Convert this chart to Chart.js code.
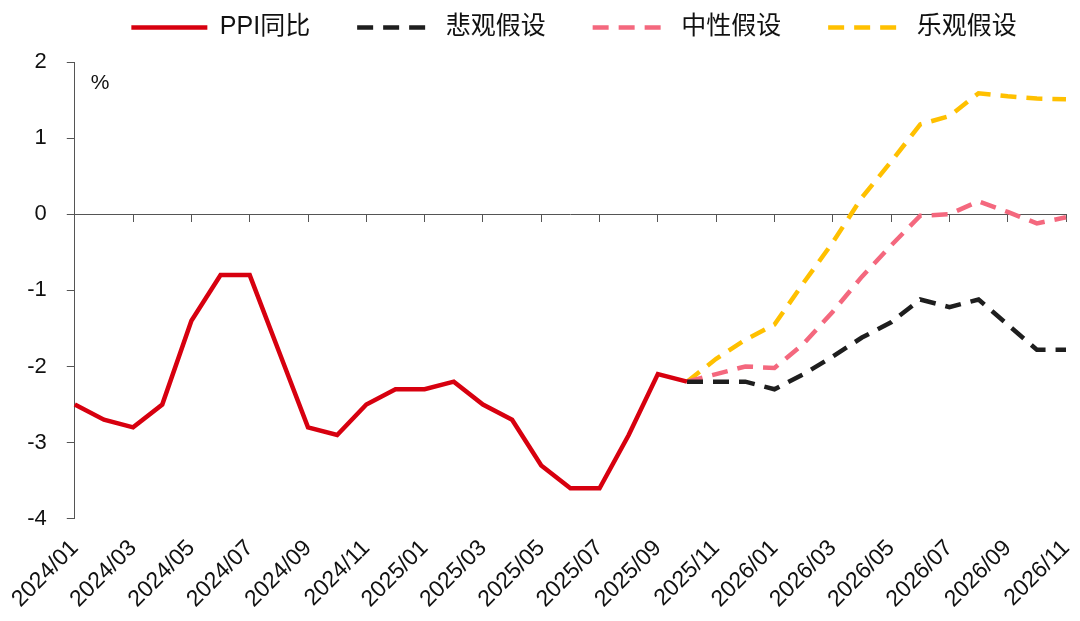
<!DOCTYPE html>
<html>
<head>
<meta charset="utf-8">
<script src="https://cdn.jsdelivr.net/npm/chart.js@4.4.1/dist/chart.umd.min.js"></script>
<style>
  html, body { margin: 0; padding: 0; background: #fff; }
  #ppichart { display: block; }
</style>
</head>
<body>
<canvas id="ppichart" width="1080" height="621"></canvas>
<script>
"use strict";

/*----------------------------------------*/
/*  data
/*----------------------------------------*/
var months = [
	"2024/01", "2024/02", "2024/03", "2024/04", "2024/05", "2024/06",
	"2024/07", "2024/08", "2024/09", "2024/10", "2024/11", "2024/12",
	"2025/01", "2025/02", "2025/03", "2025/04", "2025/05", "2025/06",
	"2025/07", "2025/08", "2025/09", "2025/10", "2025/11", "2025/12",
	"2026/01", "2026/02", "2026/03", "2026/04", "2026/05", "2026/06",
	"2026/07", "2026/08", "2026/09", "2026/10", "2026/11"
];
// actual PPI yoy, 2024/01 .. 2025/10
var ppi = [-2.5, -2.7, -2.8, -2.5, -1.4, -0.8, -0.8, -1.8, -2.8, -2.9, -2.5, -2.3,
	-2.3, -2.2, -2.5, -2.7, -3.3, -3.6, -3.6, -2.9, -2.1, -2.2];
// scenarios, 2025/10 .. 2026/11
var pessimistic = [-2.2, -2.2, -2.2, -2.3, -2.1, -1.87, -1.62, -1.42, -1.12, -1.22, -1.12, -1.45, -1.78, -1.78];
var neutral = [-2.2, -2.1, -2.0, -2.02, -1.7, -1.28, -0.82, -0.41, -0.02, 0.0, 0.17, 0.03, -0.12, -0.04];
var optimistic = [-2.2, -1.9, -1.65, -1.45, -0.9, -0.37, 0.22, 0.69, 1.18, 1.29, 1.59, 1.55, 1.52, 1.51];
var yTicks = [-4, -3, -2, -1, 0, 1, 2];

var scenarioStart = ppi.length - 1;

function padSeries(values, start) {
	var out = [];
	for (var i = 0; i < months.length; i++) {
		var j = i - start;
		out.push(j >= 0 && j < values.length ? values[j] : null);
	}
	return out;
}

var FONT = "'Liberation Sans', Arial, 'Noto Sans CJK SC', sans-serif";
var AXIS = '#555555';
var DASH = [16, 10];

/*----------------------------------------*/
/*  "%" label + legend nudge
/*----------------------------------------*/
var extras = {
	id: 'extras',
	afterLayout: function (chart) {
		// pull the legend up and right, chart area stays put
		var lg = chart.legend;
		lg.top -= 12; lg.bottom -= 12;
		lg.left += 41; lg.right += 41;
	},
	afterDraw: function (chart) {
		var c = chart.ctx, a = chart.chartArea;
		c.save();
		c.fillStyle = '#111';
		c.font = '21px ' + FONT;
		c.fillText('%', a.left + 16, a.top + 21);
		c.restore();
	}
};

/*----------------------------------------*/
/*  line chart
/*----------------------------------------*/
var ctx = document.getElementById("ppichart");
var ppichart = new Chart(ctx, {
	type: 'line',
	data: {
		labels: months,
		datasets: [{
			label: 'PPI同比',
			data: padSeries(ppi, 0),
			borderColor: '#D7000F',
			backgroundColor: '#D7000F',
			borderWidth: 4.5
		}, {
			label: '悲观假设',
			data: padSeries(pessimistic, scenarioStart),
			borderColor: '#1E1E1E',
			backgroundColor: '#1E1E1E',
			borderWidth: 4.5,
			borderDash: DASH
		}, {
			label: '中性假设',
			data: padSeries(neutral, scenarioStart),
			borderColor: '#F4687E',
			backgroundColor: '#F4687E',
			borderWidth: 4.5,
			borderDash: DASH
		}, {
			label: '乐观假设',
			data: padSeries(optimistic, scenarioStart),
			borderColor: '#FFC000',
			backgroundColor: '#FFC000',
			borderWidth: 4.5,
			borderDash: DASH
		}]
	},
	options: {
		responsive: false,
		animation: false,
		layout: {
			padding: { left: 0, right: 14, top: -20, bottom: -8 }
		},
		elements: {
			point: { radius: 0, hoverRadius: 0 },
			line: { tension: 0, borderJoinStyle: 'miter' }
		},
		plugins: {
			tooltip: { enabled: false },
			legend: {
				position: 'top',
				align: 'center',
				labels: {
					usePointStyle: true,
					pointStyle: 'line',
					pointStyleWidth: 76,
					boxHeight: 25,
					padding: 47,
					color: '#111',
					font: { family: FONT, size: 25 },
					generateLabels: function (chart) {
						var items = Chart.defaults.plugins.legend.labels.generateLabels(chart);
						items.forEach(function (it) {
							var ds = chart.data.datasets[it.datasetIndex];
							it.lineDash = ds.borderDash || [];
							it.lineWidth = 4.5;
							it.strokeStyle = ds.borderColor;
						});
						return items;
					}
				}
			}
		},
		scales: {
			x: {
				type: 'category',
				position: 'bottom',
				grid: { display: false, drawTicks: false },
				border: { display: false },
				afterFit: function (axis) {
					// rotated labels end at the tick, no room needed on the right
					axis.paddingRight = 0;
				},
				ticks: {
					autoSkip: false,
					minRotation: 45,
					maxRotation: 45,
					padding: 16,
					color: '#111',
					font: { family: FONT, size: 23 },
					callback: function (value, index) {
						return index % 2 === 0 ? months[index] : '';
					}
				}
			},
			x0: {
				type: 'category',
				position: { y: 0 },
				grid: {
					display: true,
					drawOnChartArea: false,
					drawTicks: true,
					tickLength: 7,
					color: function (c) { return c.index % 2 === 0 ? AXIS : 'rgba(0,0,0,0)'; }
				},
				border: { display: true, color: AXIS, width: 1 },
				ticks: { display: false, autoSkip: false }
			},
			y: {
				min: -4,
				max: 2,
				afterBuildTicks: function (axis) {
					axis.ticks = yTicks.map(function (v) { return { value: v }; });
				},
				grid: {
					display: true,
					drawOnChartArea: false,
					drawTicks: true,
					tickLength: 8,
					color: AXIS
				},
				border: { display: true, color: AXIS, width: 1 },
				ticks: {
					padding: 20,
					color: '#111',
					font: { family: FONT, size: 22 }
				}
			}
		}
	},
	plugins: [extras]
});
</script>
</body>
</html>
